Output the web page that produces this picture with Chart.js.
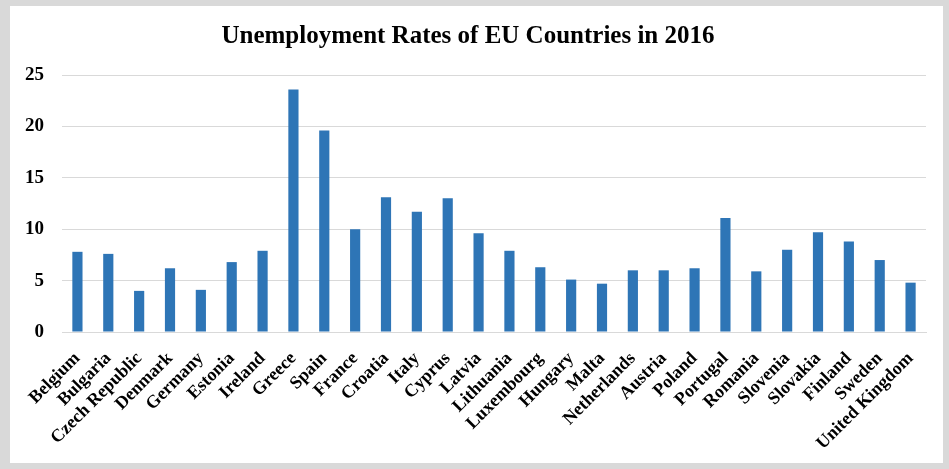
<!DOCTYPE html>
<html>
<head>
<meta charset="utf-8">
<script src="https://cdn.jsdelivr.net/npm/chart.js@4"></script>
<style>
    html, body { margin: 0; padding: 0; background: #d9d9d9; }
    #frame { position: absolute; left: 10px; top: 6px; width: 933px; height: 457px; background: #fff; }
</style>
</head>
<body>
<div id="frame"><canvas id="chart" width="933" height="457"></canvas></div>
<script>
// Unemployment rate (%) per country, 2016
const countries = ['Belgium', 'Bulgaria', 'Czech Republic', 'Denmark', 'Germany', 'Estonia', 'Ireland',
    'Greece', 'Spain', 'France', 'Croatia', 'Italy', 'Cyprus', 'Latvia', 'Lithuania', 'Luxembourg',
    'Hungary', 'Malta', 'Netherlands', 'Austria', 'Poland', 'Portugal', 'Romania', 'Slovenia',
    'Slovakia', 'Finland', 'Sweden', 'United Kingdom'];
const rates = [7.8, 7.6, 4.0, 6.2, 4.1, 6.8, 7.9,
    23.6, 19.6, 10.0, 13.1, 11.7, 13.0, 9.6, 7.9, 6.3,
    5.1, 4.7, 6.0, 6.0, 6.2, 11.1, 5.9, 8.0,
    9.7, 8.8, 7.0, 4.8];
const yTicks = [0, 5, 10, 15, 20, 25];

const serif = '"Liberation Serif", "Times New Roman", serif';

const ctx = document.getElementById('chart').getContext('2d');
new Chart(ctx, {
    type: 'bar',
    data: {
        labels: countries,
        datasets: [{
            data: rates,
            backgroundColor: '#2e75b6',
            borderWidth: 0,
            barPercentage: 0.33,
            categoryPercentage: 1
        }]
    },
    options: {
        responsive: false,
        animation: false,
        layout: { padding: { left: 0, right: 17, top: 0, bottom: 0 } },
        plugins: {
            legend: { display: false },
            tooltip: { enabled: false },
            title: {
                display: true,
                text: 'Unemployment Rates of EU Countries in 2016',
                color: '#000',
                font: { family: serif, size: 25, weight: 'bold', lineHeight: 1.2 },
                padding: { top: 16, bottom: 23 }
            }
        },
        scales: {
            x: {
                grid: { display: false },
                border: { color: '#d9d9d9' },
                ticks: {
                    color: '#000',
                    font: { family: serif, size: 18, weight: 'bold' },
                    minRotation: 45,
                    maxRotation: 45,
                    autoSkip: false,
                    padding: 8
                },
                afterFit: (scale) => { scale.height = 131; }
            },
            y: {
                min: 0,
                max: 25,
                afterBuildTicks: (scale) => { scale.ticks = yTicks.map(v => ({ value: v })); },
                grid: { color: '#d9d9d9', drawTicks: false },
                border: { display: false },
                ticks: {
                    color: '#000',
                    font: { family: serif, size: 19, weight: 'bold' },
                    padding: 18
                },
                afterFit: (scale) => { scale.width = 52; }
            }
        }
    }
});
</script>
</body>
</html>
